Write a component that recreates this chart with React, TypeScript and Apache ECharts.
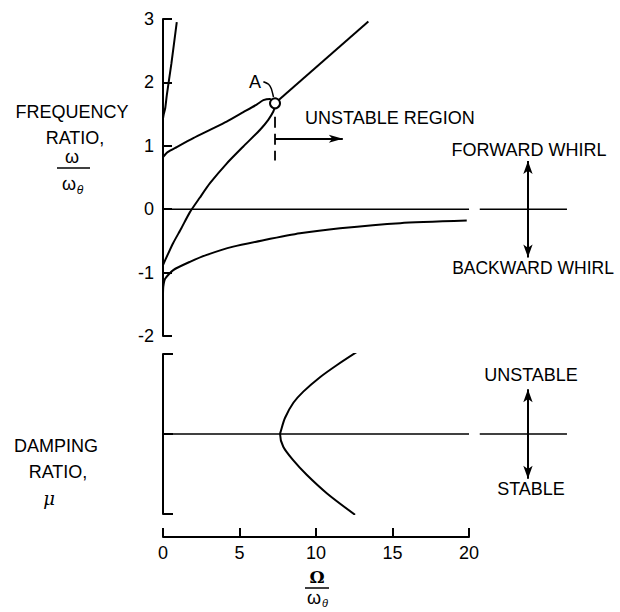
import React, { useEffect, useRef } from "react";
import * as echarts from "echarts";

// Frequency ratio branches (x = Ω/ωθ, y = ω/ωθ)
const steepBranch = [[0, 1.43], [0.05, 1.5], [0.15, 1.6], [0.25, 1.8], [0.55, 2.3], [0.9, 2.95]];
const upperBranch = [[0, 0.82], [0.3, 0.9], [0.9, 0.98], [1.98, 1.12], [3.07, 1.25], [4.16, 1.38], [5.25, 1.53], [6.12, 1.65], [6.56, 1.72], [6.99, 1.74], [7.17, 1.71], [7.32, 1.67]];
const lowerBranch = [[0, -0.88], [0.3, -0.72], [0.65, -0.54], [1.2, -0.3], [1.75, -0.05], [2.4, 0.18], [3.07, 0.41], [4.16, 0.72], [5.25, 0.99], [6.33, 1.25], [6.88, 1.41], [7.21, 1.54], [7.32, 1.62]];
const mergedBranch = [[7.32, 1.67], [13.42, 2.96]];
const backwardBranch = [[0, -1.33], [0.02, -1.22], [0.13, -1.1], [0.67, -0.96], [1.76, -0.83], [2.86, -0.72], [4.59, -0.59], [6.56, -0.49], [8.95, -0.38], [11.57, -0.3], [15.5, -0.22], [19.85, -0.18]];
const pointA = [[7.32, 1.67]];
const leaderA = [[6.56, 2.01], [6.9, 1.97], [7.08, 1.9], [7.22, 1.77]];
const boundary = [[7.32, 1.46], [7.32, 0.77]];
const unstableArrow = { y: 1.11, x0: 7.32, x1: 11.75 };
// Damping ratio
const dampingCurve = [[12.7, 1.03], [11.35, 0.86], [10.26, 0.71], [9.17, 0.53], [8.52, 0.39], [7.97, 0.2], [7.69, 0.03], [7.65, 0], [7.86, -0.16], [8.52, -0.33], [9.39, -0.51], [10.7, -0.74], [12.55, -1.01]];
const zeroLine = [[0, 0], [20, 0]];
const legendSegment = [[20.7, 0], [26.4, 0]];
const legendArrowX = 23.85;
const topArrowLen = [0.76, -0.76];
const bottomArrowLen = [0.56, -0.56];
const xTicks = { min: 0, max: 20, interval: 5 };
const yTopTicks = { min: -2, max: 3, interval: 1 };
const yBottomTicks = { min: -1, max: 1, interval: 1 };

const FONT = "'Liberation Sans', Arial, Helvetica, sans-serif";
const BLACK = "#000";

function curve(data: number[][], grid: number, width = 2, extra: any = {}) {
  return {
    type: "line",
    xAxisIndex: grid,
    yAxisIndex: grid,
    data,
    symbol: "none",
    showSymbol: false,
    smooth: 0.2,
    silent: true,
    lineStyle: { color: BLACK, width },
    ...extra,
  };
}

function arrowLines(x: number, lens: number[]) {
  return {
    silent: true,
    symbol: ["none", "arrow"],
    symbolSize: [7, 13],
    label: { show: false },
    lineStyle: { color: BLACK, width: 2, type: "solid" },
    data: lens.map((l) => [{ coord: [x, 0] }, { coord: [x, l] }]),
  };
}

function txt(text: string, x: number, y: number, extra: any = {}) {
  return {
    type: "text",
    x,
    y,
    style: {
      text,
      fill: BLACK,
      fontSize: 18,
      fontFamily: FONT,
      align: "center",
      verticalAlign: "middle",
      ...extra,
    },
  };
}

function hline(x1: number, x2: number, y: number) {
  return { type: "line", shape: { x1, y1: y, x2, y2: y }, style: { stroke: BLACK, lineWidth: 1.5 } };
}

export default function App() {
  const ref = useRef<HTMLDivElement>(null);
  useEffect(() => {
    if (!ref.current) return;
    const chart = echarts.init(ref.current, undefined, { renderer: "svg" });
    const axisLineStyle = { color: BLACK, width: 2 };
    chart.setOption({
      animation: false,
      backgroundColor: "#fff",
      grid: [
        { left: 163, top: 19, width: 405.5, height: 317 },
        { left: 163, top: 354, width: 405.5, height: 160 },
        { left: 163, top: 520, width: 306, height: 17 },
      ],
      xAxis: [
        { gridIndex: 0, type: "value", min: 0, max: 26.5, show: false },
        { gridIndex: 1, type: "value", min: 0, max: 26.5, show: false },
        {
          gridIndex: 2,
          type: "value",
          min: xTicks.min,
          max: xTicks.max,
          interval: xTicks.interval,
          axisLine: { show: true, onZero: false, lineStyle: axisLineStyle },
          axisTick: { show: true, inside: true, length: 9, lineStyle: axisLineStyle },
          axisLabel: { fontSize: 18, color: BLACK, margin: 7, fontFamily: FONT },
          splitLine: { show: false },
        },
      ],
      yAxis: [
        {
          gridIndex: 0,
          type: "value",
          min: yTopTicks.min,
          max: yTopTicks.max,
          interval: yTopTicks.interval,
          axisLine: { show: true, onZero: false, lineStyle: axisLineStyle },
          axisTick: { show: true, inside: true, length: 9, lineStyle: axisLineStyle },
          axisLabel: { fontSize: 18, color: BLACK, margin: 9, fontFamily: FONT },
          splitLine: { show: false },
        },
        {
          gridIndex: 1,
          type: "value",
          min: yBottomTicks.min,
          max: yBottomTicks.max,
          interval: yBottomTicks.interval,
          axisLine: { show: true, onZero: false, lineStyle: axisLineStyle },
          axisTick: { show: true, inside: true, length: 10, lineStyle: axisLineStyle },
          axisLabel: { show: false },
          splitLine: { show: false },
        },
        { gridIndex: 2, type: "value", min: 0, max: 1, show: false },
      ],
      series: [
        curve(zeroLine, 0, 1.5, { smooth: false }),
        curve(legendSegment, 0, 1.5, { smooth: false, markLine: arrowLines(legendArrowX, topArrowLen) }),
        curve(steepBranch, 0),
        curve(upperBranch, 0),
        curve(lowerBranch, 0),
        curve(mergedBranch, 0, 2, { smooth: false }),
        curve(backwardBranch, 0),
        curve(leaderA, 0, 1.5),
        curve(boundary, 0, 1.8, {
          smooth: false,
          lineStyle: { color: BLACK, width: 1.8, type: [11, 6] },
          markLine: {
            silent: true,
            symbol: ["none", "arrow"],
            symbolSize: [6, 14],
            label: { show: false },
            lineStyle: { color: BLACK, width: 1.8, type: "solid" },
            data: [[{ coord: [unstableArrow.x0, unstableArrow.y] }, { coord: [unstableArrow.x1, unstableArrow.y] }]],
          },
        }),
        {
          type: "scatter",
          xAxisIndex: 0,
          yAxisIndex: 0,
          data: pointA,
          symbol: "circle",
          symbolSize: 10,
          silent: true,
          z: 5,
          itemStyle: { color: "#fff", borderColor: BLACK, borderWidth: 2, opacity: 1 },
        },
        curve(zeroLine, 1, 1.5, { smooth: false }),
        curve(legendSegment, 1, 1.5, { smooth: false, markLine: arrowLines(legendArrowX, bottomArrowLen) }),
        curve(dampingCurve, 1, 2, { smooth: 0.3 }),
      ],
      graphic: [
        txt("FREQUENCY", 72, 112),
        txt("RATIO,", 75, 138),
        txt("ω", 72, 157),
        hline(57, 90, 168),
        txt("ω", 69, 184),
        txt("θ", 80, 190, { fontSize: 12, fontStyle: "italic" }),
        txt("DAMPING", 56, 446),
        txt("RATIO,", 58, 472),
        txt("μ", 49, 498, { fontStyle: "italic", fontFamily: "'DejaVu Serif', serif" }),
        txt("Ω", 317, 577, { fontFamily: "'DejaVu Serif', serif", fontWeight: "bold", fontSize: 17 }),
        hline(305, 329, 588),
        txt("ω", 314, 598),
        txt("θ", 325, 603, { fontSize: 11, fontStyle: "italic" }),
        txt("A", 255, 82),
        txt("UNSTABLE REGION", 305, 118, { align: "left" }),
        txt("FORWARD WHIRL", 529, 150),
        txt("BACKWARD WHIRL", 533, 268, { fontSize: 17.5 }),
        txt("UNSTABLE", 531, 375),
        txt("STABLE", 531, 489),
      ],
    });
    return () => chart.dispose();
  }, []);
  return <div ref={ref} style={{ position: "absolute", left: 0, top: 0, width: 620, height: 612 }} />;
}
